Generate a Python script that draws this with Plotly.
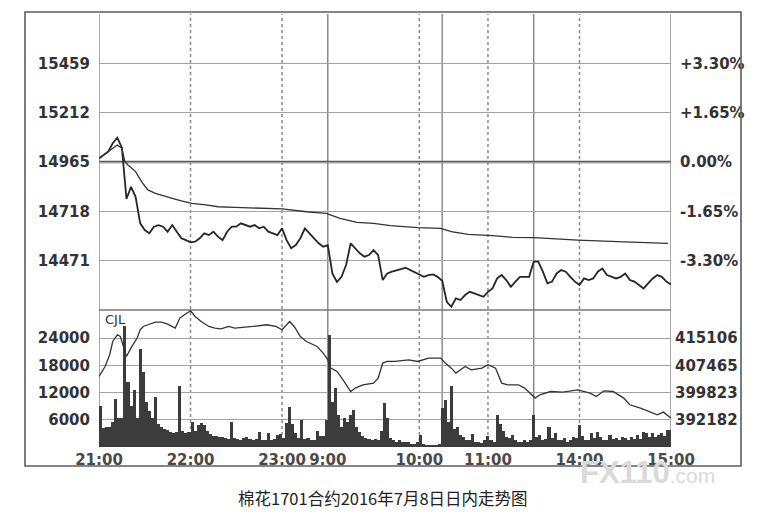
import plotly.graph_objects as go

# ---------------- data ----------------
# time axis: minutes since the 21:00 open (night 21:00-23:30, day 9:00-10:15, 10:30-11:30, 13:30-15:00)
TIME_TICKS = [0, 60, 120, 150, 210, 255, 315, 375]
TIME_LABELS = ['21:00', '22:00', '23:00', '9:00', '10:00', '11:00', '14:00', '15:00']
SESSION_BREAKS = [0, 150, 225, 285, 375]
HOUR_MARKS = [60, 120, 210, 255, 315]

PRICE_STEP = 3  # minutes between price samples
PRICE = [14983, 15000, 15017, 15059, 15087, 15037, 14780, 14841, 14791, 14658,
         14624, 14608, 14641, 14649, 14641, 14616, 14649, 14616, 14583, 14574,
         14563, 14566, 14583, 14608, 14599, 14616, 14591, 14574, 14616, 14641,
         14641, 14658, 14649, 14641, 14649, 14633, 14641, 14616, 14608, 14599,
         14633, 14574, 14533, 14549, 14583, 14633, 14608, 14583, 14558, 14541,
         14549, 14407, 14365, 14390, 14449, 14558, 14533, 14508, 14491, 14499,
         14524, 14499, 14374, 14407, 14416, 14424, 14429, 14436, 14424, 14412,
         14402, 14390, 14399, 14402, 14390, 14370, 14265, 14240, 14282, 14274,
         14299, 14315, 14307, 14299, 14290, 14315, 14332, 14382, 14399, 14374,
         14340, 14366, 14390, 14390, 14390, 14466, 14466, 14416, 14357, 14366,
         14407, 14424, 14416, 14390, 14366, 14349, 14382, 14374, 14382, 14416,
         14432, 14399, 14390, 14382, 14390, 14407, 14374, 14366, 14349, 14332,
         14357, 14382, 14399, 14390, 14366, 14352]

AVG_T = [0, 6, 12, 15, 17, 19, 24, 28, 32, 37, 41, 48, 54, 61, 70, 78, 89, 100,
         120, 136, 149, 158, 169, 180, 191, 209, 224, 231, 242, 258, 271, 285,
         300, 314, 340, 361, 373]
AVG = [14983, 15017, 15050, 15034, 14967, 14950, 14917, 14866, 14825, 14808,
       14800, 14783, 14770, 14758, 14750, 14741, 14738, 14736, 14730, 14716,
       14708, 14683, 14663, 14658, 14646, 14636, 14633, 14616, 14603, 14596,
       14588, 14586, 14579, 14574, 14566, 14561, 14558]

OI_T = [0, 4, 7, 9, 12, 14, 15, 18, 21, 25, 27, 29, 32, 37, 41, 45, 50, 53, 56, 60,
        63, 67, 72, 76, 80, 85, 89, 94, 101, 110, 116, 120, 123, 125, 128, 132, 136,
        143, 147, 150, 152, 156, 160, 165, 168, 173, 180, 183, 186, 189, 194, 203,
        209, 216, 224, 227, 231, 234, 240, 244, 251, 255, 260, 264, 268, 275, 279,
        284, 286, 289, 296, 304, 314, 322, 326, 331, 337, 344, 348, 355, 361, 366,
        370, 375]
OI = [404350, 407160, 410450, 414180, 416070, 415590, 414180, 409970, 412400, 415140,
      417470, 418400, 418880, 419630, 419630, 419070, 417950, 420760, 421690, 422810,
      421210, 419800, 418400, 417950, 417750, 418400, 417950, 418120, 418400, 418880,
      418400, 417470, 418880, 419800, 418400, 415590, 414180, 412780, 410920, 409040,
      406690, 405760, 403420, 400130, 401090, 402020, 402490, 403900, 408110, 408570,
      408570, 409040, 408570, 409520, 409520, 408110, 406690, 405300, 407160, 406230,
      406690, 407640, 406690, 402490, 402020, 402020, 401090, 399200, 398280, 399200,
      400130, 399970, 400610, 399680, 398730, 400330, 400130, 398280, 396400, 395470,
      394520, 393590, 394340, 392660]

VOL_STEP = 2  # minutes per volume bar
VOLUME = [9000, 4200, 4400, 4500, 5500, 10500, 6500, 6500, 26800, 14300,
          9000, 12500, 6500, 21700, 16500, 10000, 8000, 6500, 11000, 5000,
          4500, 4000, 3800, 3300, 3000, 3200, 13500, 3500, 3000, 3200,
          5500, 3500, 4800, 5200, 4800, 3500, 2800, 2500, 2500, 2200,
          2200, 2000, 1800, 5500, 2000, 1800, 1500, 2000, 2300, 1800,
          1500, 1800, 3400, 1500, 1500, 3000, 1500, 1800, 2600, 2800,
          2000, 5300, 8800, 5000, 3000, 2000, 5900, 1800, 2000, 1500,
          1500, 3500, 2500, 2500, 6000, 24700, 10000, 13000, 7000, 4500,
          6400, 5500, 7000, 8100, 4500, 3400, 2500, 2000, 1800, 1500,
          1800, 1500, 3500, 9800, 6500, 2000, 1500, 1100, 1500, 1000,
          1200, 1200, 600, 600, 1000, 2600, 600, 500, 500, 500,
          500, 600, 8600, 10300, 5500, 13500, 4000, 4500, 2700, 2200,
          1500, 1500, 2800, 1000, 1000, 800, 1500, 2500, 1500, 1200,
          7000, 5000, 3500, 2200, 2000, 2600, 1500, 1200, 1200, 1500,
          1200, 1500, 7000, 2300, 2600, 1500, 1800, 4400, 1900, 3000,
          1500, 1500, 1900, 1200, 1500, 2300, 2000, 4800, 2500, 1500,
          1500, 3000, 2000, 3300, 2300, 1500, 1500, 2600, 1800, 1900,
          1500, 2300, 2000, 1500, 2300, 1800, 2600, 1800, 3400, 3000,
          2300, 3000, 2300, 2600, 3000, 2500, 3700, 3700]

PREV_SETTLE = 14965
PRICE_TICKS = [14471, 14718, 14965, 15212, 15459]
PCT_LABELS = ['-3.30%', '-1.65%', '0.00%', '+1.65%', '+3.30%']
VOL_TICKS = [6000, 12000, 18000, 24000]
OI_TICKS = [392182, 399823, 407465, 415106]

TITLE = '棉花1701合约2016年7月8日日内走势图'

# ---------------- figure ----------------
price_x = [i * PRICE_STEP for i in range(len(PRICE))]
vol_x = [i * VOL_STEP + VOL_STEP / 2 for i in range(len(VOLUME))]

p_step = PRICE_TICKS[1] - PRICE_TICKS[0]
price_range = [PREV_SETTLE - 3 * p_step, PREV_SETTLE + 3 * p_step]
vol_top = 30220
oi_step = (OI_TICKS[-1] - OI_TICKS[0]) / 3
oi_lo = OI_TICKS[0] - oi_step
oi_range = [oi_lo, oi_lo + vol_top / VOL_TICKS[0] * oi_step]

split = (447 - 310) / 433.0

fig = go.Figure()
fig.add_trace(go.Bar(x=vol_x, y=VOLUME, width=VOL_STEP, xaxis='x', yaxis='y3',
                     marker=dict(color='#3c3c3c', line=dict(width=0)), hoverinfo='skip'))
fig.add_trace(go.Scatter(x=OI_T, y=OI, mode='lines', xaxis='x', yaxis='y4',
                         line=dict(color='#333333', width=1.3)))
fig.add_trace(go.Scatter(x=AVG_T, y=AVG, mode='lines', xaxis='x', yaxis='y2',
                         line=dict(color='#333333', width=1.3)))
fig.add_trace(go.Scatter(x=price_x, y=PRICE, mode='lines', xaxis='x', yaxis='y',
                         line=dict(color='#262626', width=1.8)))

tick_font = dict(family='DejaVu Sans', size=15, color='#333333', weight='bold')

shapes = []
for t in SESSION_BREAKS:
    shapes.append(dict(type='line', xref='x', yref='paper', x0=t, x1=t, y0=0, y1=1,
                       line=dict(color='#7a7a7a', width=1.3), layer='below'))
for t in HOUR_MARKS:
    shapes.append(dict(type='line', xref='x', yref='paper', x0=t, x1=t, y0=0, y1=1,
                       line=dict(color='#8a8a8a', width=1.5, dash='dot'), layer='below'))
shapes.append(dict(type='line', xref='paper', yref='y', x0=0, x1=1,
                   y0=PREV_SETTLE, y1=PREV_SETTLE, line=dict(color='#5a5a5a', width=2.6),
                   layer='below'))
shapes.append(dict(type='line', xref='paper', yref='paper', x0=0, x1=1,
                   y0=split, y1=split, line=dict(color='#777777', width=1.3), layer='below'))
# outer frame
shapes.append(dict(type='rect', xref='paper', yref='paper',
                   x0=(25 - 99) / 572, x1=(741 - 99) / 572,
                   y0=(447 - 466) / 433, y1=(447 - 12) / 433,
                   line=dict(color='#5c5c5c', width=1.6), fillcolor='rgba(0,0,0,0)'))

# the page body has an 8px margin, so the figure is drawn 8px in and 8px down
fig.update_layout(
    width=755, height=516,
    margin=dict(l=91, r=92, t=6, b=77),
    paper_bgcolor='white', plot_bgcolor='white',
    showlegend=False, bargap=0,
    shapes=shapes,
    xaxis=dict(range=[0, 375], domain=[0, 1], anchor='y3',
               tickmode='array', tickvals=TIME_TICKS, ticktext=TIME_LABELS,
               showgrid=False, zeroline=False, showline=False, ticks='',
               tickfont=dict(family='DejaVu Sans', size=15, color='#4a4a4a', weight='bold'),
               ticklabelstandoff=2, fixedrange=True),
    yaxis=dict(domain=[split, 1], range=price_range, anchor='x',
               tickmode='array', tickvals=PRICE_TICKS, ticktext=[str(v) for v in PRICE_TICKS],
               showgrid=True, gridcolor='#a2a2a2', gridwidth=1.2, zeroline=False,
               ticks='', tickfont=tick_font, ticklabelstandoff=8),
    yaxis2=dict(overlaying='y', side='right', range=price_range, anchor='x',
                tickmode='array', tickvals=PRICE_TICKS, ticktext=PCT_LABELS,
                showgrid=False, zeroline=False, ticks='', tickfont=tick_font,
                ticklabelstandoff=8),
    yaxis3=dict(domain=[0, split], range=[0, vol_top], anchor='x',
                tickmode='array', tickvals=VOL_TICKS, ticktext=[str(v) for v in VOL_TICKS],
                showgrid=True, gridcolor='#a2a2a2', gridwidth=1.2, zeroline=False,
                ticks='', tickfont=tick_font, ticklabelstandoff=8),
    yaxis4=dict(overlaying='y3', side='right', range=oi_range, anchor='x',
                tickmode='array', tickvals=OI_TICKS, ticktext=[str(v) for v in OI_TICKS],
                showgrid=False, zeroline=False, ticks='', tickfont=tick_font,
                ticklabelstandoff=3),
    annotations=[
        dict(text='CJL', xref='paper', yref='paper', x=0.007, y=(447 - 319) / 433,
             xanchor='left', yanchor='middle', showarrow=False,
             font=dict(family='DejaVu Sans', size=13, color='#333333')),
        dict(text=TITLE, xref='paper', yref='paper', x=(383 - 99) / 572, y=(447 - 498) / 433,
             xanchor='center', yanchor='middle', showarrow=False,
             font=dict(family='Noto Sans CJK SC', size=16.5, color='#222222')),
        dict(text="FX110<span style='font-size:21px;font-weight:normal'>.com</span>",
             xref='paper', yref='paper', x=(578 - 99) / 572, y=(447 - 472) / 433,
             xanchor='left', yanchor='middle', showarrow=False,
             font=dict(family='Liberation Sans', size=31, color='#dadada', weight='bold')),
    ],
)

fig.write_html('out.html')
